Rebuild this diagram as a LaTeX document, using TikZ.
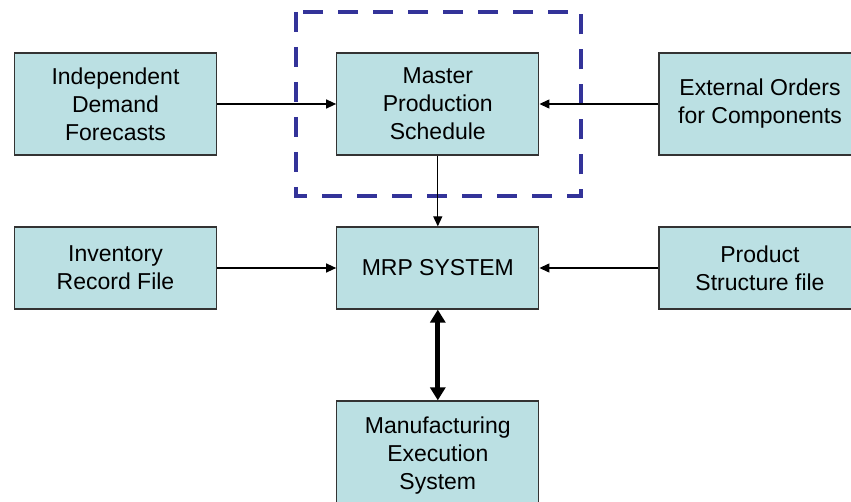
\documentclass[tikz,border=0pt]{standalone}
\usepackage{fontspec}
\setmainfont{Liberation Sans}
\usetikzlibrary{arrows.meta,positioning}
\definecolor{boxfill}{HTML}{BBE0E3}
\definecolor{mpsframe}{HTML}{333399}

\begin{document}
\begin{tikzpicture}[
    x=1pt, y=-1pt,
    font=\fontsize{23}{28}\selectfont,
    blk/.style={
      rectangle, minimum width=202pt, minimum height=102pt,
      text centered, align=center, draw=black!80, line width=1.3pt,
      fill=boxfill, inner sep=0pt
    },
    flat/.style={blk, minimum height=82pt},
    arr/.style={-{Triangle[length=10pt,width=9pt]}, line width=1.3pt},
    bigarr/.style={{Triangle[length=13pt,width=15pt]}-{Triangle[length=13pt,width=15pt]}, line width=5pt},
  ]
    \useasboundingbox (0,0) rectangle (851,502);

    \draw[mpsframe, line width=4pt, dash pattern=on 20pt off 15pt]
      (296,12) rectangle (580.5,196);

    \node[blk]  (idf) at (115.5,104) {Independent\\Demand\\Forecasts};
    \node[blk]  (mps) at (437.8,104) {Master\\Production\\Schedule};
    \node[blk]  (ext) at (760,104)   {External Orders\\for Components};
    \node[flat] (inv) at (115.5,268) {Inventory\\Record File};
    \node[flat] (mrp) at (437.8,268) {MRP SYSTEM};
    \node[flat] (pst) at (760,268)   {Product\\Structure file};
    \node[blk, minimum height=110pt] (mes) at (437.8,456) {Manufacturing\\Execution\\System};

    \draw[arr]    (idf.east)  -- (mps.west);
    \draw[arr]    (ext.west)  -- (mps.east);
    \draw[arr]    (mps.south) -- (mrp.north);
    \draw[arr]    (inv.east)  -- (mrp.west);
    \draw[arr]    (pst.west)  -- (mrp.east);
    \draw[bigarr] (mrp.south) -- (mes.north);
  \end{tikzpicture}
\end{document}
